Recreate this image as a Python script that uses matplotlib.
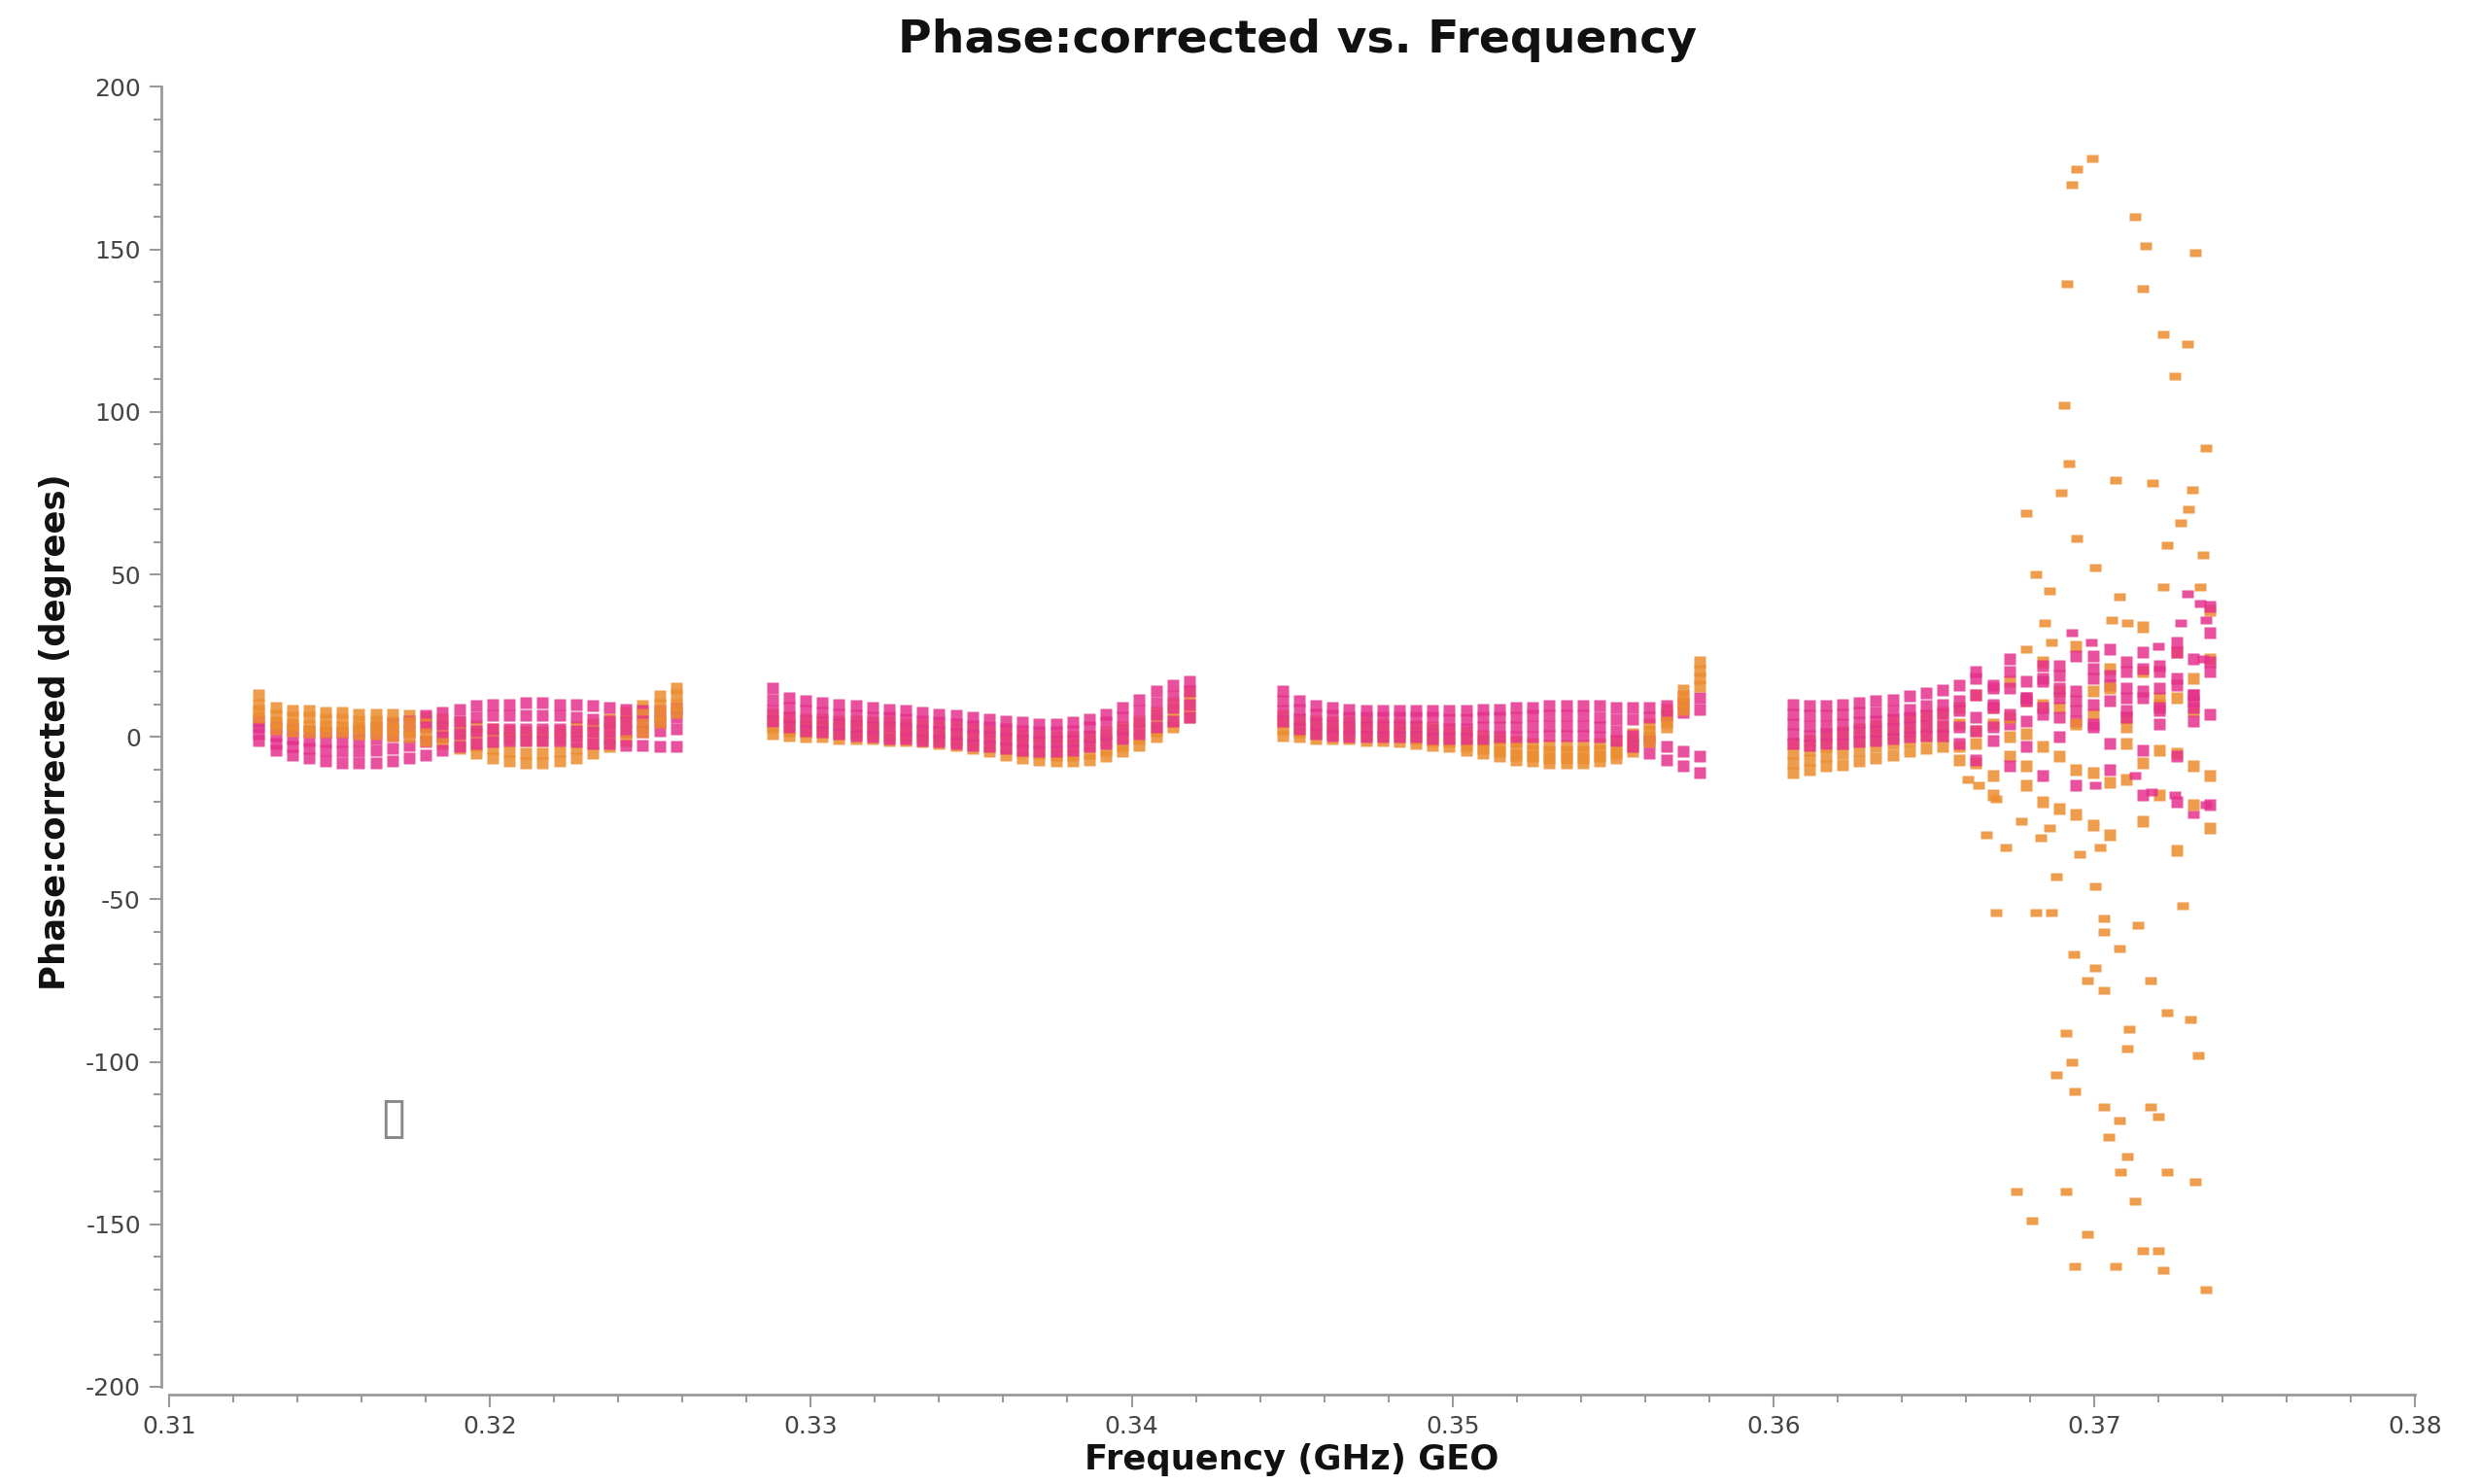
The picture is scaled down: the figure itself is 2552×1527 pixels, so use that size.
import numpy as np
import matplotlib.pyplot as plt
from matplotlib.ticker import MultipleLocator

plt.rcParams['font.family'] = ['DejaVu Sans']
plt.rcParams['axes.unicode_minus'] = False

# spectral windows (GHz), 26 channels each
spw_start = [0.3128, 0.3288, 0.3447, 0.3606]
spw_width = 0.0130
nchan = 26
nan = np.nan

# phase (deg) per channel, one list per baseline track
orange_spw1 = [
    [13, 9, 8, 8, 7.5, 7.5, 7, 7, 7, 6.5, 6, 5.5, 4.5, 3.5, 2.5, 2, 1.5, 1.5, 2, 3, 4, 5.5, 7.5, 9.5, 12.5, 15],
    [10, 6.5, 6, 6, 5.5, 5.5, 5, 5, 4.5, 4.5, 4, 3, 2, 1, 0, -0.5, -1, -1, -0.5, 0.5, 1.5, 3, 5, 7, 10, 13],
    [8, 4.5, 4, 3.5, 3.5, 3, 3, 3, 2.5, 2, 1, 0, -1, -2.5, -3.5, -4.5, -5, -5, -4.5, -3.5, -2, -0.5, 1.5, 4, 7, 10],
    [6, 2.5, 2, 1.5, 1.5, 1.5, 1, 1, 0.5, 0, -1, -2, -3.5, -5, -6.5, -7.5, -8, -8, -7.5, -6.5, -5, -3, -1, 1.5, 4.5, 7.5],
]
pink_spw1 = [
    [5, 3, 2.5, 2, 1.5, 1.5, 2, 3, 4, 5, 6.5, 7.5, 8.5, 9.5, 10, 10, 10.5, 10.5, 10, 10, 9.5, 9, 8.5, 8, 8, 9],
    [3, 0.5, -0.5, -1, -1.5, -1.5, -1, -0.5, 0.5, 1.5, 3, 4, 5, 6, 6.5, 6.5, 6.5, 6.5, 6.5, 6, 5.5, 5, 5, 5, 5, 6],
    [1, -2, -3, -3.5, -4, -4.5, -4.5, -4, -3.5, -2.5, -1.5, 0, 1, 2, 2.5, 2.5, 2.5, 2.5, 2.5, 2, 1.5, 1.5, 1.5, 1.5, 2, 2.5],
    [-1, -4, -5.5, -6.5, -7.5, -8, -8, -8, -7.5, -6.5, -5.5, -4, -3, -2, -1.5, -1, -1, -1, -1, -1.5, -2, -2, -2.5, -2.5, -3, -3],
]
orange_spw2 = [
    [7, 6, 5.5, 5.5, 5, 5, 4.5, 4.5, 4, 4, 3.5, 3, 2.5, 2, 1.5, 1, 0.5, 0, 0, 0.5, 1.5, 3, 5, 7.5, 10.5, 14],
    [5, 4, 3.5, 3.5, 3, 3, 2.5, 2.5, 2, 2, 1.5, 1, 0.5, -0.5, -1, -1.5, -2, -2.5, -2.5, -2, -1, 0.5, 2.5, 5, 8, 11.5],
    [3, 2, 1.5, 1.5, 1, 1, 1, 0.5, 0.5, 0, -0.5, -1, -2, -3, -3.5, -4.5, -5, -5.5, -5.5, -5, -4, -2.5, -0.5, 2, 5, 8.5],
    [1, 0.5, 0, 0, -0.5, -0.5, -0.5, -1, -1, -1.5, -2, -2.5, -3.5, -4.5, -5.5, -6.5, -7, -7.5, -7.5, -7, -6, -4.5, -2.5, 0, 3, 6],
]
pink_spw2 = [
    [15, 12, 11, 10.5, 10, 9.5, 9, 8.5, 8, 7.5, 7, 6.5, 6, 5.5, 5, 4.5, 4, 4, 4.5, 5.5, 7, 9, 11.5, 14, 16, 17],
    [11.5, 9, 8, 7.5, 7, 6.5, 6, 6, 5.5, 5, 4.5, 4, 3.5, 3, 2.5, 2, 1.5, 1.5, 2, 3, 4.5, 6, 8, 10.5, 12.5, 14],
    [8, 6, 5, 4.5, 4, 3.5, 3, 3, 2.5, 2, 1.5, 1, 0.5, 0, -0.5, -1, -1.5, -1.5, -1, 0, 1, 2.5, 4.5, 7, 9, 10],
    [5, 3, 2, 1.5, 1, 0.5, 0, -0.5, -0.5, -1, -1.5, -2, -2.5, -3, -3.5, -4, -4.5, -4.5, -4, -3, -2, -0.5, 1, 3, 5, 6],
]
orange_spw3 = [
    [6.5, 5.5, 5, 4.5, 4.5, 4.5, 4, 4, 3.5, 3, 2.5, 1.5, 0.5, -0.5, -1.5, -2, -2.5, -2.5, -2.5, -2, -1, 1, 4, 8.5, 14.5, 23],
    [4.5, 3.5, 3, 2.5, 2.5, 2.5, 2, 2, 1.5, 1, 0.5, -0.5, -1.5, -2.5, -3.5, -4, -4.5, -4.5, -4.5, -4, -3, -1, 2, 6.5, 12.5, 20.5],
    [2.5, 1.5, 1, 1, 1, 0.5, 0.5, 0, -0.5, -1, -1.5, -2.5, -3.5, -4.5, -5.5, -6, -6.5, -6.5, -6.5, -6, -5, -3, 0, 4.5, 10.5, 18],
    [0.5, 0, -0.5, -0.5, -0.5, -1, -1, -1.5, -2, -2.5, -3, -4, -5, -6, -7, -7.5, -8, -8, -8, -7.5, -6.5, -4.5, -1.5, 3, 8.5, 15.5],
]
pink_spw3 = [
    [14, 11, 9.5, 9, 8.5, 8, 8, 8, 8, 8, 8, 8, 8.5, 8.5, 9, 9, 9.5, 9.5, 9.5, 9.5, 9, 9, 9, 9.5, 10.5, 12],
    [11, 8.5, 7, 6.5, 6, 6, 6, 6, 6, 6, 5.5, 5.5, 6, 6, 6, 6.5, 6.5, 6.5, 6.5, 6, 5.5, 5.5, 6, 6.5, 7.5, 8.5],
    [8, 5.5, 4, 3.5, 3, 3, 3, 3, 3, 2.5, 2.5, 2.5, 3, 3, 3, 3.5, 3.5, 3.5, 3.5, 3, 2, 0.5, -1.5, -3, -4.5, -6],
    [5, 2.5, 1, 0.5, 0, 0, 0, 0, 0, -0.5, -0.5, -0.5, -0.5, 0, 0, 0, 0.5, 0.5, 0.5, 0, -1, -3, -5, -7, -9, -11],
]
orange_spw4 = [
    [-2, -1, 0, 1.5, 2.5, 3.5, 4.5, 5.5, 6.5, 7.5, 9, 13, 4, 17, 1, 23, 9, 28, 14, 21, 6, 34, 10, 26, 18, 39],
    [-5, -4, -3, -2, -1, 0, 1, 2, 3, 3.5, 4, -2, 9, -6, 11, -3, 14, -10, 7, -14, 3, -8, 12, -5, 8, -12],
    [-8, -7, -6, -5, -4, -3, -2, -1, 0, 0.5, -3, -8, -12, 0, -15, -20, -6, -24, -11, -30, -2, -26, -18, -35, -9, -28],
    [-11, -10, -9, -8.5, -7.5, -6.5, -5.5, -4.5, -3.5, -3, -7, 2, -18, 6, -9, 10, -22, 4, -27, 15, -13, 20, -4, 12, -21, 24],
]
pink_spw4 = [
    [10, 9.5, 9.5, 10, 10.5, 11, 11.5, 12.5, 13.5, 14.5, 16, 18, 15, 20, 17, 22, 19, 25, 21, 27, 23, 26, 20, 29, 24, 40],
    [7, 6.5, 6.5, 7, 7.5, 7.5, 8, 8.5, 9.5, 10, 11, 13, 9, 15, 11, 17, 12, 14, 18, 11, 20, 14, 22, 16, 13, 32],
    [4, 3.5, 3.5, 4, 4.5, 5, 5.5, 6, 6.5, 7, 8, 6, 10, 4, 12, 7, 15, 5, 10, 16, 6, 12, 8, 18, 9, 20],
    [1, 0.5, 1, 1, 1.5, 2, 2.5, 3, 3.5, 3.5, 3, 2, -1, 7, -3, 9, 0, 11, 3, -2, 8, -4, 4, -6, 5, 7],
    [-2, -2.5, -2, -2, -1.5, -1, -0.5, 0, 0.5, 0.5, -2, -7, 3, -9, 12, -12, 6, -15, 4, -10, 15, -18, 9, -20, 13, -21],
    [nan, nan, nan, nan, nan, nan, nan, nan, nan, nan, nan, 20, 16, 24, 5, 18, 22, 8, 25, 19, 12, 21, 15, 26, 11, 23],
]

# scattered outliers at the top of spw 4
orange_out_freq = [0.36994, 0.36945, 0.36930, 0.37128, 0.37162, 0.37315, 0.36916, 0.37152, 0.37216,
                   0.37290, 0.37251, 0.36906, 0.37349, 0.36920, 0.37068, 0.37182, 0.37305, 0.36896,
                   0.37295, 0.36787, 0.37270, 0.36945, 0.37226, 0.37339, 0.37004, 0.36817, 0.37216,
                   0.37330, 0.36861, 0.37078, 0.37054, 0.37103, 0.36847, 0.36866, 0.36787,
                   0.36605, 0.36639, 0.36694, 0.36773, 0.36861, 0.36664, 0.36832, 0.36723, 0.37019,
                   0.36955, 0.36881, 0.37004, 0.37275, 0.36866, 0.36817, 0.36694, 0.37029, 0.37137,
                   0.37029, 0.37078, 0.36935, 0.37004, 0.36980, 0.37177, 0.37029, 0.37226, 0.37300,
                   0.37108, 0.36911, 0.37103, 0.37325, 0.36930, 0.36881, 0.36940, 0.37029, 0.37177,
                   0.37201, 0.37078, 0.37044, 0.37103, 0.37083, 0.37226, 0.37315, 0.36911, 0.36758,
                   0.37128, 0.36807, 0.36980, 0.37152, 0.37201, 0.36940, 0.37068, 0.37216, 0.37349]
orange_out_phase = [178, 174.6, 170, 160, 151, 149, 139.5, 138, 124,
                    121, 111, 102, 89, 84, 79, 78, 76, 75,
                    70, 69, 66, 61, 59, 56, 52, 50, 46,
                    46, 45, 43, 36, 35, 35, 29, 27,
                    -13, -15, -19, -26, -28, -30, -31, -34, -34,
                    -36, -43, -46, -52, -54, -54, -54, -56, -58,
                    -60, -65, -67, -71, -75, -75, -78, -85, -87,
                    -90, -91, -96, -98, -100, -104, -109, -114, -114,
                    -117, -118, -123, -129, -134, -134, -137, -140, -140,
                    -143, -149, -153, -158, -158, -163, -163, -164, -170]
pink_out_freq = [0.37290, 0.37330, 0.37270, 0.37349, 0.37349, 0.37251, 0.37128, 0.37004, 0.36930, 0.37201,
                 0.37340, 0.37310, 0.37180, 0.36990]
pink_out_phase = [44, 41, 35, 36, -21, -18, -12, -15, 32, 28, 24, -24, -17, 29]

pink = '#e6318c'
orange = '#ec8c2e'

# rectangle marker for lone outliers
dot_mark = [(-1, -0.65), (1, -0.65), (1, 0.65), (-1, 0.65), (-1, -0.65)]

fig = plt.figure(figsize=(25.52, 15.27), dpi=100)
ax = fig.add_axes([0.0682, 0.0655, 0.9056, 0.8759])

orange_sets = [orange_spw1, orange_spw2, orange_spw3, orange_spw4]
pink_sets = [pink_spw1, pink_spw2, pink_spw3, pink_spw4]
for start, otracks, ptracks in zip(spw_start, orange_sets, pink_sets):
    chan = np.linspace(start, start + spw_width, nchan)
    for o, p in zip(otracks + [None] * 4, ptracks):
        if o is not None:
            ax.plot(chan, o, ls='none', marker='s', ms=8.5, mec='none', mfc=orange, alpha=0.85)
        ax.plot(chan, p, ls='none', marker='s', ms=8.5, mec='none', mfc=pink, alpha=0.85)
ax.plot(orange_out_freq, orange_out_phase, ls='none', marker=dot_mark, ms=8, mec='none', mfc=orange, alpha=0.85)
ax.plot(pink_out_freq, pink_out_phase, ls='none', marker=dot_mark, ms=8, mec='none', mfc=pink, alpha=0.85)

ax.set_xlim(0.31, 0.38)
ax.set_ylim(-200, 200)
ax.xaxis.set_major_locator(MultipleLocator(0.01))
ax.xaxis.set_minor_locator(MultipleLocator(0.002))
ax.yaxis.set_major_locator(MultipleLocator(50))
ax.yaxis.set_minor_locator(MultipleLocator(10))
ax.set_xticks(ax.get_xticks())
ax.set_xticklabels(['%.2f' % v for v in ax.get_xticks()])
ax.set_xlim(0.31, 0.38)

for s in ['top', 'right']:
    ax.spines[s].set_visible(False)
for s in ['left', 'bottom']:
    ax.spines[s].set_color('#9a9a9a')
    ax.spines[s].set_linewidth(2)
    ax.spines[s].set_position(('outward', 6))
ax.tick_params(which='major', direction='out', length=9, width=1.5, color='#9a9a9a',
               labelsize=18, labelcolor='#444444', pad=6)
ax.tick_params(which='minor', direction='out', length=6, width=1.5, color='#9a9a9a')

fig.text(0.523, 0.973, 'Phase:corrected vs. Frequency', ha='center', va='center',
         fontsize=34, fontweight='bold', color='#111111')
fig.text(0.521, 0.0164, 'Frequency (GHz) GEO', ha='center', va='center',
         fontsize=25.5, fontweight='bold', color='#111111')
fig.text(0.0223, 0.5065, 'Phase:corrected (degrees)', ha='center', va='center', rotation=90,
         fontsize=25.5, fontweight='bold', color='#111111')
ax.text(0.100, 0.206, '\u25af', transform=ax.transAxes, ha='center', va='center',
        fontsize=38, color='#888888')

fig.savefig('out.png', dpi=100)
